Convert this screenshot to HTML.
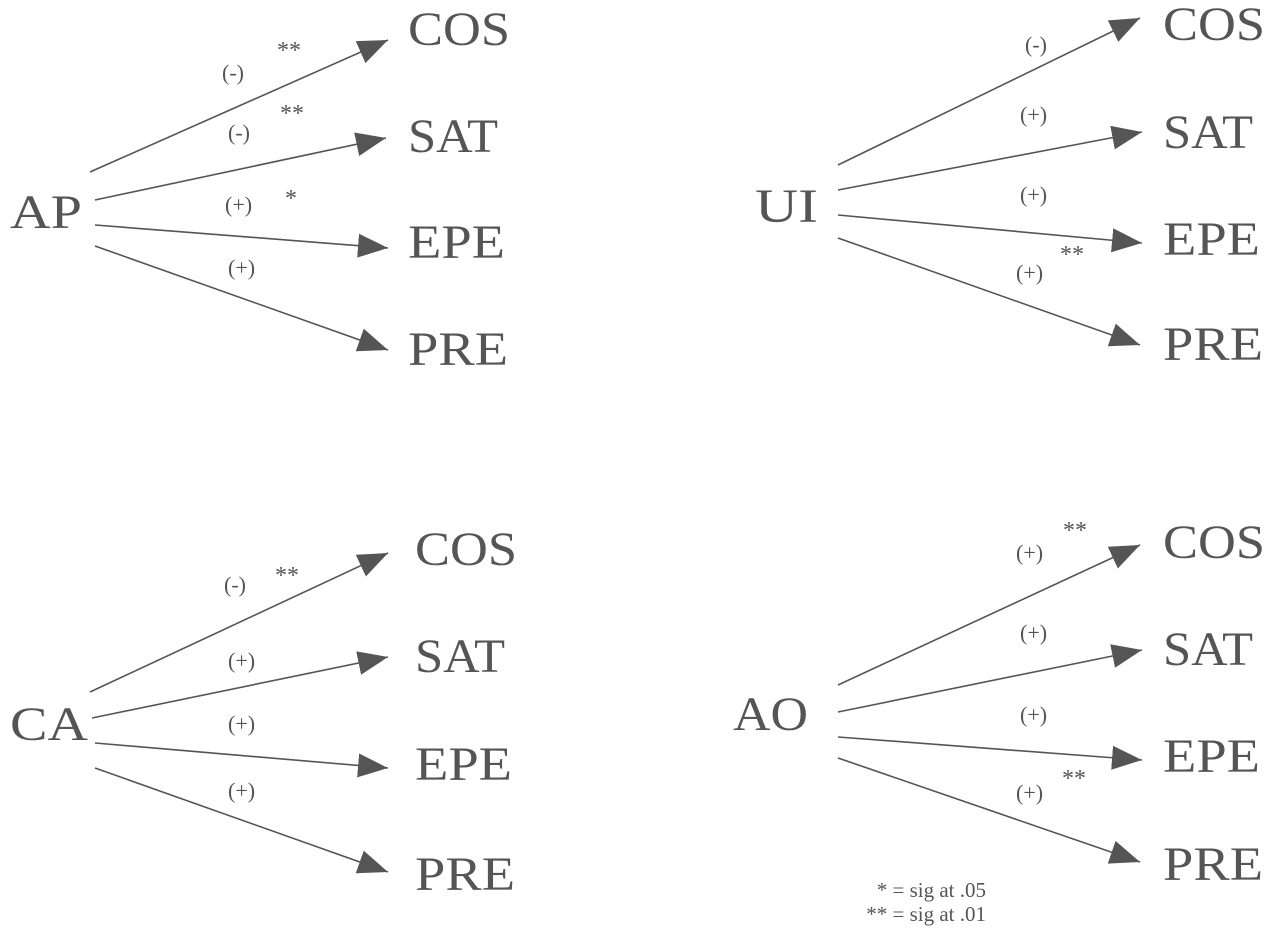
<!DOCTYPE html>
<html><head><meta charset="utf-8"><style>
html,body{margin:0;padding:0;background:#fff;}
svg{display:block;}
text{font-family:"Liberation Serif",serif;fill:#555;}
.n{font-size:48px;}
.l{font-size:22px;}
.s{font-size:24px;}
.g{font-size:21px;}
</style></head><body>
<svg width="1281" height="946" viewBox="0 0 1281 946" xmlns="http://www.w3.org/2000/svg">
<defs>
<marker id="a" markerWidth="32" markerHeight="26" refX="30" refY="12" orient="auto" markerUnits="userSpaceOnUse">
<path d="M0,0 L30,12 L0,24 Z" fill="#555"/>
</marker>
</defs>
<g stroke="#555" stroke-width="1.6" marker-end="url(#a)">
<line x1="90" y1="172" x2="388" y2="40"/>
<line x1="95" y1="200" x2="386" y2="138"/>
<line x1="95" y1="225" x2="388" y2="248"/>
<line x1="95" y1="246" x2="388" y2="350"/>

<line x1="838" y1="165" x2="1140" y2="18"/>
<line x1="838" y1="190" x2="1142" y2="132"/>
<line x1="838" y1="215" x2="1142" y2="243"/>
<line x1="838" y1="238" x2="1140" y2="345"/>

<line x1="90" y1="692" x2="388" y2="553"/>
<line x1="92" y1="718" x2="388" y2="657"/>
<line x1="95" y1="743" x2="388" y2="768"/>
<line x1="95" y1="768" x2="388" y2="872"/>

<line x1="838" y1="685" x2="1140" y2="545"/>
<line x1="838" y1="712" x2="1142" y2="650"/>
<line x1="838" y1="737" x2="1142" y2="760"/>
<line x1="838" y1="758" x2="1140" y2="862"/>
</g>

<text class="n" x="10" y="228" textLength="72" lengthAdjust="spacingAndGlyphs">AP</text>
<text class="n" x="408" y="45" textLength="102" lengthAdjust="spacingAndGlyphs">COS</text>
<text class="n" x="408" y="152" textLength="90" lengthAdjust="spacingAndGlyphs">SAT</text>
<text class="n" x="408" y="258" textLength="97" lengthAdjust="spacingAndGlyphs">EPE</text>
<text class="n" x="408" y="365" textLength="100" lengthAdjust="spacingAndGlyphs">PRE</text>
<text class="l" x="222" y="80">(-)</text><text class="s" x="277" y="58">**</text>
<text class="l" x="228" y="140">(-)</text><text class="s" x="280" y="121">**</text>
<text class="l" x="225" y="212">(+)</text><text class="s" x="285" y="206">*</text>
<text class="l" x="228" y="275">(+)</text>

<text class="n" x="755" y="222" textLength="63" lengthAdjust="spacingAndGlyphs">UI</text>
<text class="n" x="1163" y="40" textLength="102" lengthAdjust="spacingAndGlyphs">COS</text>
<text class="n" x="1163" y="148" textLength="90" lengthAdjust="spacingAndGlyphs">SAT</text>
<text class="n" x="1163" y="255" textLength="97" lengthAdjust="spacingAndGlyphs">EPE</text>
<text class="n" x="1163" y="360" textLength="100" lengthAdjust="spacingAndGlyphs">PRE</text>
<text class="l" x="1025" y="52">(-)</text>
<text class="l" x="1020" y="122">(+)</text>
<text class="l" x="1020" y="202">(+)</text>
<text class="l" x="1016" y="280">(+)</text><text class="s" x="1060" y="262">**</text>

<text class="n" x="10" y="740" textLength="78" lengthAdjust="spacingAndGlyphs">CA</text>
<text class="n" x="415" y="565" textLength="102" lengthAdjust="spacingAndGlyphs">COS</text>
<text class="n" x="415" y="672" textLength="90" lengthAdjust="spacingAndGlyphs">SAT</text>
<text class="n" x="415" y="780" textLength="97" lengthAdjust="spacingAndGlyphs">EPE</text>
<text class="n" x="415" y="890" textLength="100" lengthAdjust="spacingAndGlyphs">PRE</text>
<text class="l" x="224" y="592">(-)</text><text class="s" x="275" y="583">**</text>
<text class="l" x="228" y="668">(+)</text>
<text class="l" x="228" y="731">(+)</text>
<text class="l" x="228" y="798">(+)</text>

<text class="n" x="733" y="730" textLength="75" lengthAdjust="spacingAndGlyphs">AO</text>
<text class="n" x="1163" y="558" textLength="102" lengthAdjust="spacingAndGlyphs">COS</text>
<text class="n" x="1163" y="665" textLength="90" lengthAdjust="spacingAndGlyphs">SAT</text>
<text class="n" x="1163" y="772" textLength="97" lengthAdjust="spacingAndGlyphs">EPE</text>
<text class="n" x="1163" y="880" textLength="100" lengthAdjust="spacingAndGlyphs">PRE</text>
<text class="l" x="1016" y="560">(+)</text><text class="s" x="1063" y="538">**</text>
<text class="l" x="1020" y="640">(+)</text>
<text class="l" x="1020" y="722">(+)</text>
<text class="l" x="1016" y="800">(+)</text><text class="s" x="1062" y="786">**</text>

<text class="g" x="986" y="897" text-anchor="end">* = sig at .05</text>
<text class="g" x="986" y="921" text-anchor="end">** = sig at .01</text>
</svg>
</body></html>
